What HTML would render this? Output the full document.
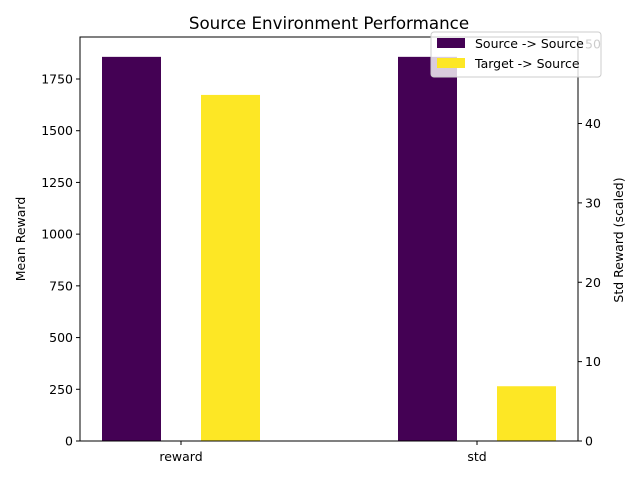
<!DOCTYPE html>
<html><head><meta charset="utf-8"><style>
body{margin:0;background:#fff;font-family:"DejaVu Sans","Liberation Sans",sans-serif;}
</style></head><body>
<svg id="chart" width="640" height="480" xmlns="http://www.w3.org/2000/svg" font-family="DejaVu Sans, Liberation Sans, sans-serif">
<text x="329" y="29" font-size="16.7" text-anchor="middle">Source Environment Performance</text>
<g id="bars"></g>
<g id="axes"></g>
</svg>
<script>
const categories = ["reward", "std"];
const seriesNames = ["Source -> Source", "Target -> Source"];
const sourceValues = [1857, 48.4];
const targetValues = [1673, 6.9];
const leftTicks = [0, 250, 500, 750, 1000, 1250, 1500, 1750];
const rightTicks = [0, 10, 20, 30, 40, 50];
const colors = ["#440154", "#fde725"];

const NS = "http://www.w3.org/2000/svg";
const L = 80, R = 578, T = 37, B = 441;
const leftMax = 1953, rightMax = 50.9;
const yL = v => B - v / leftMax * (B - T);
const yR = v => B - v / rightMax * (B - T);
const xC = i => 181 + i * 296;
const bw = 59;
const FS = 12.5;
function mk(tag, attrs, parent) { const e = document.createElementNS(NS, tag); for (const k in attrs) e.setAttribute(k, attrs[k]); parent.appendChild(e); return e; }
const bars = document.getElementById("bars"), axes = document.getElementById("axes");
const series = [sourceValues, targetValues];
series.forEach((vals, s) => {
  vals.forEach((v, i) => {
    const y = i === 0 ? yL(v) : yR(v);
    const cx = xC(i) + (s === 0 ? -49.5 : 49.5);
    const r = mk("rect", {x: cx - bw / 2, y: y, width: bw, height: B - y, fill: colors[s]}, bars);
    
    
  });
});
mk("rect", {x: L, y: T, width: R - L, height: B - T, fill: "none", stroke: "#000", "stroke-width": 1}, axes);
leftTicks.forEach(t => {
  const y = yL(t);
  mk("line", {x1: L - 4, x2: L, y1: y, y2: y, stroke: "#000"}, axes);
  const tx = mk("text", {x: L - 7, y: y + 4.5, "font-size": FS, "text-anchor": "end"}, axes);
  tx.textContent = t;
  
  
});
rightTicks.forEach(t => {
  const y = yR(t);
  mk("line", {x1: R, x2: R + 4, y1: y, y2: y, stroke: "#000"}, axes);
  const tx = mk("text", {x: R + 7, y: y + 4.5, "font-size": FS}, axes);
  tx.textContent = t;
  
  
});
categories.forEach((c, i) => {
  mk("line", {x1: xC(i), x2: xC(i), y1: B, y2: B + 4, stroke: "#000"}, axes);
  const tx = mk("text", {x: xC(i), y: B + 20, "font-size": FS, "text-anchor": "middle"}, axes);
  tx.textContent = c;
  
  
});
const yl = mk("text", {x: 25, y: (T + B) / 2, "font-size": FS, "text-anchor": "middle", transform: "rotate(-90 25 " + (T + B) / 2 + ")"}, axes);
yl.textContent = "Mean Reward";


const yr = mk("text", {x: 623, y: (T + B) / 2 + 1, "font-size": FS, "text-anchor": "middle", transform: "rotate(-90 623 " + ((T + B) / 2 + 1) + ")"}, axes);
yr.textContent = "Std Reward (scaled)";


const lg = mk("g", {}, axes);


mk("rect", {x: 431, y: 32, width: 170, height: 45, rx: 3, fill: "#fff", "fill-opacity": 0.8, stroke: "#ccc"}, lg);
seriesNames.forEach((n, s) => {
  const y = 38 + s * 20;
  const sw = mk("rect", {x: 437, y: y, width: 28, height: 10, fill: colors[s]}, lg);
  
  
  const tx = mk("text", {x: 475, y: y + 10, "font-size": FS}, lg);
  tx.textContent = n;
  
  
});
</script>
</body></html>
